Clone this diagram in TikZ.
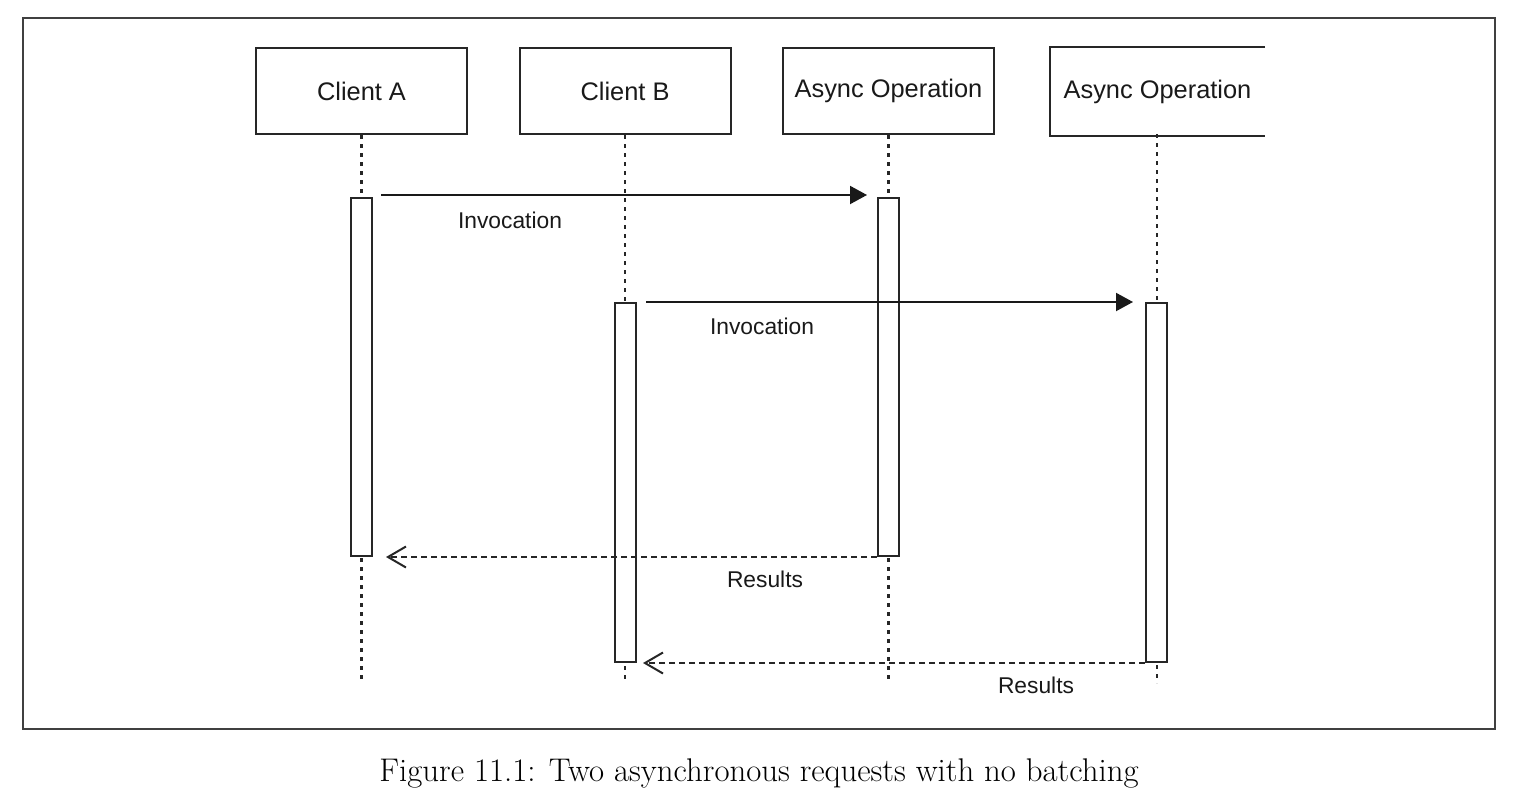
\documentclass[tikz,border=0pt]{standalone}
\usepackage{fontspec}
\newfontfamily\hv{Liberation Sans}
\usetikzlibrary{arrows.meta}
\begin{document}
\begin{tikzpicture}[x=0.5pt,y=-0.5pt,
  head/.style={draw=black!85,line width=1pt,minimum width=105.5pt,minimum height=43pt,inner sep=0pt,
    font=\hv\fontsize{12.7}{14}\selectfont,text=black!90},
  actbar/.style={draw=black!85,fill=white,line width=1pt,minimum width=10.5pt,inner sep=0pt,anchor=north},
  lifeline/.style={draw=black!85,line width=1.1pt,dash pattern=on 2pt off 2.5pt},
  inv/.style={draw=black!90,line width=1pt,-{Triangle[length=8.5pt,width=9pt]}},
  res/.style={draw=black!85,line width=1pt,dash pattern=on 3pt off 2pt,-{Straight Barb[length=9pt,width=10.5pt,line width=1pt]}},
  lbl/.style={font=\hv\fontsize{11.4}{13}\selectfont,text=black!90,inner sep=0pt}
]
\useasboundingbox (0,0) rectangle (1518,808);
\draw[line width=1.3pt,draw=black!75] (23,18) rectangle (1495,729);

% headers
\node[head] (hA) at (361.5,91) {\raisebox{-0.5pt}{Client A}};
\node[head] (hB) at (625,91) {\raisebox{-0.5pt}{Client B}};
\node[head] (hC) at (888.5,91) {\raisebox{-1pt}{Async Operation}};
\node[head,draw=none,minimum width=106.5pt] (hD) at (1157.5,91.5) {\raisebox{-1pt}{Async Operation}};
\draw[draw=black!85,line width=1pt] (hD.north east) -- (hD.north west) -- (hD.south west) -- (hD.south east);

% lifeline ends
\coordinate (eA) at (361.5,683);
\coordinate (eB) at (625,683);
\coordinate (eC) at (888.5,683);
\coordinate (eD) at (1157,683);
\draw[lifeline] (hA.south) -- (eA);
\draw[lifeline] (hB.south) -- (eB);
\draw[lifeline] (hC.south) -- (eC);
\draw[lifeline] (1157,134) -- (eD);

% activation bars
\node[actbar,minimum height=179pt] (aA) at (361.5,197) {};
\node[actbar,minimum height=179.5pt] (aB) at (625.5,302) {};
\node[actbar,minimum height=179pt] (aC) at (888.5,197) {};
\node[actbar,minimum height=179.5pt] (aD) at (1156.5,302) {};

% messages
\draw[inv,shorten <=4pt,shorten >=5pt] ([yshift=1pt]aA.north east) -- ([yshift=1pt]aC.north west);
\node[lbl] (l1) at (510,220) {Invocation};
\draw[inv,shorten <=4.5pt,shorten >=6pt] (aB.north east) -- (aD.north west);
\node[lbl] (l2) at (762,326) {Invocation};
\draw[res,shorten >=6.5pt] (aC.south west) -- (aA.south east);
\node[lbl] (l3) at (765,579) {Results};
\draw[res,shorten >=3pt] (aD.south west) -- (aB.south east);
\node[lbl] (l4) at (1036,685) {Results};

% caption
\node[font=\fontsize{16.4}{19}\selectfont,inner sep=0pt] (cap) at (759,773) {Figure 11.1: Two asynchronous requests with no batching};
\end{tikzpicture}
\end{document}
